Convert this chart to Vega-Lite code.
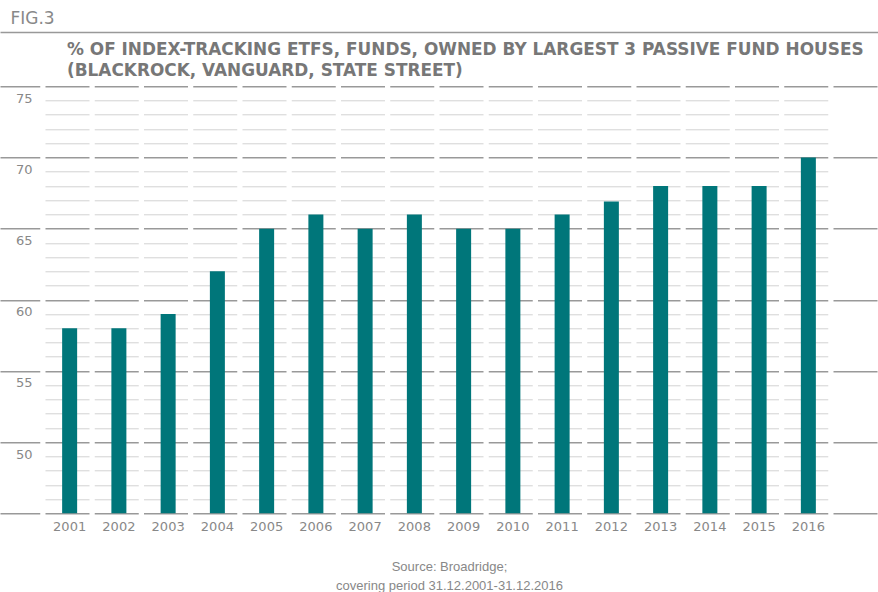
{
  "$schema": "https://vega.github.io/schema/vega-lite/v6.json",
  "width": 878,
  "height": 427,
  "autosize": {"type": "none"},
  "padding": {"left": 0, "top": 86.3, "right": 0, "bottom": 78.7},
  "background": "white",
  "config": {"view": {"stroke": null}, "font": "DejaVu Sans"},
  "title": {
    "text": ["% OF INDEX-TRACKING ETFS, FUNDS, OWNED BY LARGEST 3 PASSIVE FUND HOUSES", "(BLACKROCK, VANGUARD, STATE STREET)"],
    "anchor": "start",
    "frame": "group",
    "dx": 67,
    "offset": 0,
    "dy": 70,
    "font": "DejaVu Sans",
    "fontSize": 16.9,
    "fontWeight": "bold",
    "color": "#777777",
    "lineHeight": 21
  },
  "data": {
    "values": [
      {"year": "2001", "pct": 58},
      {"year": "2002", "pct": 58},
      {"year": "2003", "pct": 59},
      {"year": "2004", "pct": 62},
      {"year": "2005", "pct": 65},
      {"year": "2006", "pct": 66},
      {"year": "2007", "pct": 65},
      {"year": "2008", "pct": 66},
      {"year": "2009", "pct": 65},
      {"year": "2010", "pct": 65},
      {"year": "2011", "pct": 66},
      {"year": "2012", "pct": 66.9},
      {"year": "2013", "pct": 68},
      {"year": "2014", "pct": 68},
      {"year": "2015", "pct": 68},
      {"year": "2016", "pct": 70}
    ]
  },
  "layer": [
    {
      "mark": {"type": "bar", "color": "#00767a", "width": 15, "clip": true},
      "encoding": {
        "x": {
          "field": "year",
          "type": "ordinal",
          "scale": {"paddingInner": 0, "paddingOuter": 0.914},
          "axis": {
            "orient": "bottom",
            "domain": false,
            "ticks": false,
            "grid": false,
            "labelAngle": 0,
            "labelPadding": 7,
            "labelFontSize": 13,
            "labelColor": "#888888",
            "labelFont": "DejaVu Sans",
            "title": ["Source: Broadridge;", "covering period 31.12.2001-31.12.2016"],
            "titleFont": "Liberation Sans",
            "titleFontSize": 13,
            "titleFontWeight": "normal",
            "titleColor": "#888888",
            "titleLineHeight": 19,
            "titleX": 449,
            "titleY": 47,
            "titleBaseline": "top",
            "titleAlign": "center"
          }
        },
        "y": {
          "field": "pct",
          "type": "quantitative",
          "scale": {"domain": [45, 75], "nice": false, "zero": false},
          "axis": {
            "values": [45,46,47,48,49,50,51,52,53,54,55,56,57,58,59,60,61,62,63,64,65,66,67,68,69,70,71,72,73,74,75],
            "grid": true,
            "gridColor": {"condition": {"test": "datum.value % 5 === 0", "value": "#999999"}, "value": "#d2d2d2"},
            "gridWidth": {"condition": {"test": "datum.value % 5 === 0", "value": 1.6}, "value": 1},
            "gridDash": {"condition": {"test": "datum.value % 5 === 0", "value": [44, 5.25]}, "value": [44,5.25,44,5.25,44,5.25,44,5.25,44,5.25,44,5.25,44,5.25,44,5.25,44,5.25,44,5.25,44,5.25,44,5.25,44,5.25,44,5.25,44,5.25,44,100]},
            "gridDashOffset": {"condition": {"test": "datum.value % 5 === 0", "value": 4.25}, "value": 837.75},
            "domain": false,
            "ticks": false,
            "tickSize": 0,
            "labelOverlap": false,
            "labelExpr": "datum.value % 5 === 0 && datum.value > 45 ? datum.label : ''",
            "labelPadding": -32,
            "labelOffset": 12,
            "labelBaseline": "middle",
            "labelFontSize": 13,
            "labelColor": "#888888",
            "labelFont": "DejaVu Sans",
            "title": "FIG.3",
            "titleAngle": 0,
            "titleX": 10,
            "titleY": -62.5,
            "titleAlign": "left",
            "titleBaseline": "alphabetic",
            "titleFont": "DejaVu Sans",
            "titleFontSize": 17,
            "titleFontWeight": "normal",
            "titleColor": "#888888"
          }
        }
      }
    },
    {
      "mark": {"type": "bar", "opacity": 0},
      "encoding": {
        "x": {
          "field": "year",
          "type": "ordinal",
          "axis": {
            "orient": "top",
            "offset": 54.3,
            "domain": true,
            "domainColor": "#999999",
            "domainWidth": 1.5,
            "labels": false,
            "ticks": false,
            "grid": false,
            "title": null
          }
        }
      }
    }
  ],
  "resolve": {"axis": {"x": "independent"}}
}
